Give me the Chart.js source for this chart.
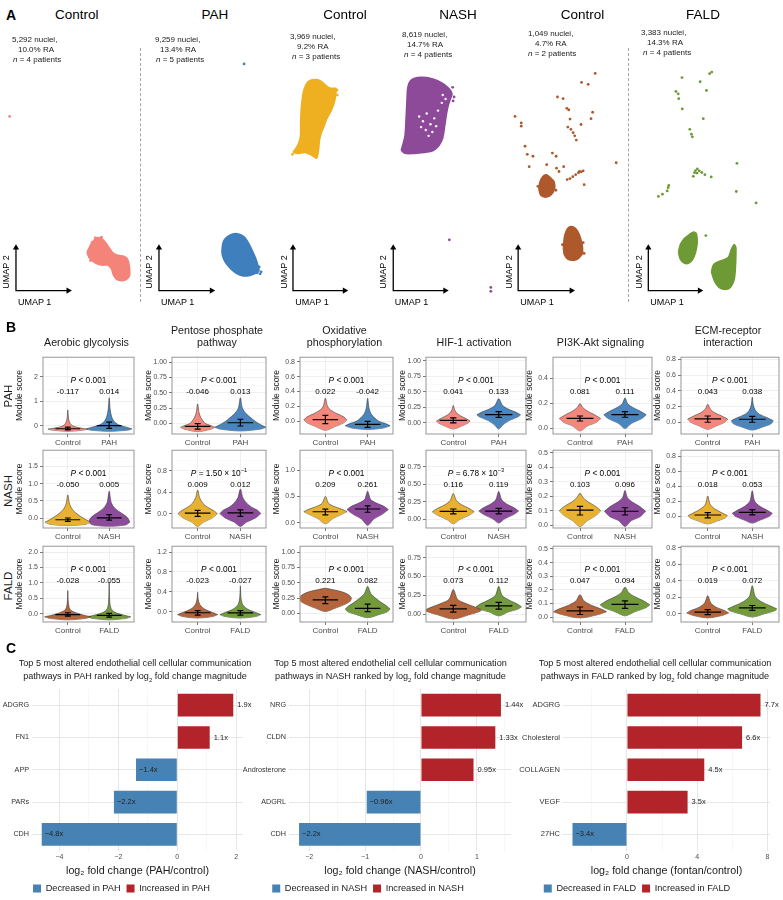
<!DOCTYPE html>
<html><head><meta charset="utf-8">
<script src="https://cdn.jsdelivr.net/npm/chart.js@4.4.1/dist/chart.umd.min.js"></script>
<style>
html,body{margin:0;padding:0;background:#fff;overflow:hidden;}
#root{position:relative;width:783px;height:900px;overflow:hidden;font-family:'Liberation Sans',Arial,Helvetica,sans-serif;color:#1a1a1a;background:#fff;}
.t{position:absolute;white-space:nowrap;line-height:1.15;}
.t sup{font-size:68%;vertical-align:super;line-height:0;}
canvas{position:absolute;}
.dash{position:absolute;width:0;border-left:1.2px dashed #a6a6a6;}
</style></head>
<body><div id="root"></div>
<script>
// ===================== PANEL A DATA (UMAP units) =====================
const umapTitles = ['Control','PAH','Control','NASH','Control','FALD'];
const umapNuclei = ['5,292','9,259','3,969','8,619','1,049','3,383'];
const umapRA = ['10.0%','13.4%','9.2%','14.7%','4.7%','14.3%'];
const umapPatients = [4,5,3,4,2,4];
const umapColors = ['#F4837A','#3F7FBE','#EEB021','#8D4A98','#AD592B','#6E9A36'];
const umapLefts = [0,143,272,385,500,633];
const umapTitleX = [76.7,215,345,458,582.5,703];
const umapArrows = [[1.27,6.82,5.48],[1.27,6.85,5.48],[1.8,7.28,5.48],[0.45,5.95,5.48],[1.5,7.15,5.48],[1.2,6.65,5.48]];
const annLeft = [[12,18,13],[155,160,156],[290,297,292],[402,407,404],[528,535,528],[641,647,643]];
const annTop = [40,40,37,35,34,33];

const umap1Blobs = [[
  [[8.8,4.9],[9.2,5.8],[9.8,6.5],[10.4,6.4],[11.0,5.7],[11.6,4.9],[12.1,4.7],[12.7,4.6],[13.1,4.3],[13.3,3.5],[13.35,2.7]],
  [[8.8,4.9],[9.2,4.3],[9.7,3.9],[10.3,3.7],[11.0,3.7],[11.4,3.3],[11.6,2.7],[12.0,2.2],[12.6,2.1],[13.1,2.3],[13.35,2.7]]
]];
const umap1Dots = [[8.93,5.17],[9.07,4.5],[9.33,6.0],[9.67,6.5],[10.33,6.57],[9.17,4.17],[0.6,19.0]];

const umap2Blobs = [[
  [[7.95,5.3],[8.1,6.1],[8.5,6.6],[9.1,6.9],[9.7,6.9],[10.3,6.6],[10.8,5.9],[11.2,5.1],[11.6,4.2],[11.8,3.5],[11.9,3.1]],
  [[7.95,5.3],[8.0,4.7],[8.3,4.0],[8.8,3.4],[9.4,2.9],[10.1,2.6],[10.8,2.6],[11.4,2.8],[11.9,3.1]]
]];
const umap2Dots = [[10.3,24.4],[11.9,3.5],[12.1,3.0],[11.7,2.9],[12.0,2.8]];

const umap3Blobs = [[
  [[1.8,15.3],[2.1,15.7],[2.4,16.2],[2.6,17.0],[2.62,18.5],[2.7,20.0],[2.9,21.5],[3.2,22.3],[3.6,22.7],[4.3,22.8],[4.8,22.6],[5.4,22.1],[5.8,21.9],[6.4,21.9]],
  [[1.8,15.3],[2.3,15.2],[3.1,15.3],[3.8,15.0],[4.3,14.7],[4.5,15.5],[4.6,16.5],[4.8,17.3],[5.1,18.0],[5.4,18.8],[5.8,19.5],[6.1,20.2],[6.3,21.0],[6.4,21.9]]
]];
const umap3Dots = [[1.75,15.1],[6.45,21.7],[5.9,20.3],[6.2,20.9],[6.5,21.2],[5.5,19.3]];

const umap4Blobs = [[
  [[1.3,15.5],[1.5,16.2],[1.7,17.0],[1.8,18.5],[1.9,20.5],[2.0,22.0],[2.3,22.7],[3.0,23.0],[4.0,23.0],[4.8,22.8],[5.5,22.5],[6.1,22.1],[6.5,21.7],[6.7,21.3]],
  [[1.3,15.5],[1.7,15.2],[2.7,15.2],[3.7,15.3],[4.7,15.5],[5.3,16.0],[5.7,16.8],[5.9,18.0],[6.1,19.3],[6.3,20.2],[6.5,20.8],[6.7,21.3]]
]];
const umap4Dots = [[6.4,6.3],[10.8,1.4],[10.8,1.0],[6.9,21.0],[6.8,20.6],[6.75,22.0]];
const umap4Holes = [[3.2,19.0],[3.6,18.5],[4.0,19.3],[4.4,18.2],[4.8,18.8],[3.9,17.6],[4.6,17.4],[5.2,19.6],[5.6,20.4],[5.7,21.2],[6.0,20.8],[3.4,17.9],[4.2,17.0],[5.0,18.0]];

const umap5Blobs = [
  [[[3.7,11.5],[3.8,12.2],[4.1,12.8],[4.5,13.0],[4.9,12.7],[5.3,12.3],[5.4,11.7]],
   [[3.7,11.5],[3.9,10.9],[4.3,10.7],[4.8,10.8],[5.2,11.2],[5.4,11.7]]],
  [[[6.3,5.5],[6.4,6.5],[6.6,7.2],[6.9,7.6],[7.4,7.6],[7.8,7.2],[8.1,6.5],[8.3,5.7],[8.35,4.9]],
   [[6.3,5.5],[6.4,4.8],[6.8,4.3],[7.4,4.2],[7.9,4.4],[8.35,4.9]]]
];
const umap5Dots = [[9.67,23.43],[8.23,22.5],[8.93,22.3],[5.67,21.0],[6.27,20.83],[6.67,19.83],[6.87,19.67],[9.4,19.43],[9.23,18.77],[7.0,18.73],[1.83,18.33],[1.83,18.0],[8.17,18.17],[6.77,17.9],[7.1,17.67],[7.33,17.33],[7.5,17.0],[7.67,16.57],[2.23,15.93],[2.47,15.1],[3.07,14.9],[5.13,15.23],[5.53,14.9],[4.53,14.03],[2.67,13.83],[5.57,13.67],[6.33,13.83],[5.83,13.33],[8.5,11.97],[11.9,14.23],[1.17,19.0],[8.0,13.33],[6.7,12.5],[7.0,12.6],[7.3,12.8],[7.6,13.0],[7.9,13.2],[8.2,13.3],[8.4,13.4],[8.4,6.0],[8.5,4.9],[6.2,5.8],[3.6,11.8],[5.5,11.4]];

const umap6Blobs = [
  [[[4.4,5.0],[4.6,5.8],[5.0,6.4],[5.5,6.8],[6.0,7.1],[6.3,6.9],[6.4,6.0]],
   [[4.4,5.0],[4.6,4.3],[5.0,3.9],[5.5,3.9],[5.9,4.3],[6.2,5.0],[6.4,6.0]]],
  [[[7.9,3.0],[8.1,3.7],[8.5,4.0],[9.1,4.2],[9.7,4.5],[10.0,5.3],[10.3,5.8],[10.5,5.5]],
   [[7.9,3.0],[8.2,2.1],[8.7,1.4],[9.3,1.2],[9.9,1.4],[10.3,2.2],[10.45,3.7],[10.5,5.5]]]
];
const umap6Dots = [[7.93,23.57],[7.7,23.4],[4.77,23.0],[6.7,22.57],[4.13,21.57],[4.37,21.33],[4.43,20.83],[7.37,21.67],[4.8,19.77],[7.03,18.77],[5.6,17.67],[5.77,17.17],[5.87,16.9],[10.6,14.17],[6.2,13.43],[6.37,13.17],[6.87,13.23],[7.2,13.0],[7.87,12.77],[5.97,12.83],[3.3,11.67],[3.2,11.33],[2.7,11.0],[2.27,10.77],[10.53,11.27],[12.63,10.1],[7.3,6.73],[6.4,13.6],[6.6,13.4],[3.37,11.9],[6.1,13.2]];

// ===================== PANEL B DATA =====================
const metricTitles = ['Aerobic glycolysis','Pentose phosphate<br>pathway','Oxidative<br>phosphorylation','HIF-1 activation','PI3K-Akt signaling','ECM-receptor<br>interaction'];
const groupNames = ['PAH','NASH','FALD'];
const rowColors = [['#F4877C','#4A85BD'],['#E9B130','#8C4C9B'],['#B4653B','#739A3B']];
// [min, max, major step, decimals]
const pahYAxis = [[-0.33,2.8,1,0],[-0.17,1.08,0.25,2],[-0.17,0.86,0.2,1],[-0.18,1.06,0.25,2],[-0.044,0.57,0.2,1],[-0.15,0.83,0.2,1]];
const nashYAxis = [[-0.29,1.97,0.5,1],[-0.27,1.19,0.4,1],[-0.1,1.38,0.5,1],[-0.12,0.985,0.25,2],[-0.02,0.518,0.1,1],[-0.155,0.88,0.2,1]];
const faldYAxis = [[-0.27,2.19,0.5,1],[-0.21,1.32,0.4,1],[-0.14,1.095,0.25,2],[-0.1,0.9,0.25,2],[-0.035,0.52,0.1,1],[-0.1,0.82,0.2,1]];
const pahMedians = [[-0.117,0.014],[-0.046,0.013],[0.022,-0.042],[0.041,0.133],[0.081,0.111],[0.043,0.038]];
const nashMedians = [[-0.050,0.005],[0.009,0.012],[0.209,0.261],[0.116,0.119],[0.103,0.096],[0.018,0.053]];
const faldMedians = [[-0.028,-0.055],[-0.023,-0.027],[0.221,0.082],[0.073,0.112],[0.047,0.094],[0.019,0.072]];
const pahIQR = [[[-0.16,-0.05],[-0.1,0.15]],[[-0.09,0.0],[-0.04,0.07]],[[-0.03,0.08],[-0.08,0.0]],[[0.0,0.08],[0.09,0.18]],[[0.06,0.1],[0.09,0.135]],[[0.0,0.08],[0.0,0.075]]];
const nashIQR = [[[-0.1,0.0],[-0.06,0.1]],[[-0.05,0.06],[-0.05,0.07]],[[0.15,0.26],[0.2,0.32]],[[0.08,0.15],[0.08,0.16]],[[0.07,0.13],[0.07,0.12]],[[-0.02,0.05],[0.02,0.09]]];
const faldIQR = [[[-0.08,0.03],[-0.11,0.01]],[[-0.07,0.02],[-0.07,0.02]],[[0.16,0.27],[0.03,0.15]],[[0.03,0.12],[0.07,0.16]],[[0.02,0.075],[0.065,0.12]],[[-0.01,0.05],[0.04,0.1]]];
const pahP = ['< 0.001','< 0.001','< 0.001','< 0.001','< 0.001','< 0.001'];
const nashP = ['< 0.001','= 1.50 × 10<sup>−1</sup>','< 0.001','= 6.78 × 10<sup>−3</sup>','< 0.001','< 0.001'];
const faldP = ['< 0.001','< 0.001','< 0.001','< 0.001','< 0.001','< 0.001'];
// violin outlines: [score, relative half-width] from bottom tip to top tip
const pahCtrlShapes = [
 [[-0.22,0],[-0.17,0.8],[-0.13,1],[-0.08,0.6],[0.0,0.25],[0.1,0.12],[0.25,0.05],[0.45,0.02],[0.65,0]],
 [[-0.13,0],[-0.09,0.8],[-0.06,1],[-0.03,0.75],[0.0,0.45],[0.05,0.3],[0.1,0.18],[0.18,0.08],[0.32,0]],
 [[-0.12,0],[-0.07,0.45],[-0.02,0.85],[0.02,1],[0.06,0.85],[0.1,0.55],[0.15,0.25],[0.2,0.1],[0.31,0]],
 [[-0.1,0],[-0.05,0.5],[0.0,0.9],[0.03,1],[0.07,0.75],[0.11,0.45],[0.16,0.2],[0.21,0.08],[0.28,0]],
 [[-0.02,0],[0.02,0.35],[0.05,0.8],[0.08,1],[0.11,0.7],[0.14,0.35],[0.17,0.12],[0.2,0]],
 [[-0.09,0],[-0.05,0.4],[0.0,0.85],[0.04,1],[0.08,0.7],[0.12,0.35],[0.17,0.12],[0.23,0]]];
const pahDisShapes = [
 [[-0.22,0],[-0.17,0.85],[-0.12,1],[-0.05,0.75],[0.05,0.4],[0.2,0.2],[0.4,0.1],[0.7,0.04],[1.15,0]],
 [[-0.12,0],[-0.09,0.8],[-0.06,1],[-0.02,0.8],[0.03,0.6],[0.08,0.45],[0.15,0.25],[0.25,0.08],[0.42,0]],
 [[-0.11,0],[-0.09,0.7],[-0.06,1],[-0.03,0.8],[0.0,0.5],[0.05,0.3],[0.1,0.15],[0.18,0.06],[0.31,0]],
 [[-0.1,0],[-0.03,0.2],[0.04,0.5],[0.1,0.9],[0.13,1],[0.17,0.8],[0.22,0.45],[0.28,0.18],[0.39,0]],
 [[0.0,0],[0.04,0.3],[0.08,0.8],[0.11,1],[0.14,0.7],[0.17,0.35],[0.2,0.12],[0.245,0]],
 [[-0.1,0],[-0.06,0.5],[-0.02,0.9],[0.02,1],[0.06,0.7],[0.1,0.35],[0.15,0.15],[0.22,0.05],[0.32,0]]];
const nashCtrlShapes = [
 [[-0.22,0],[-0.18,0.8],[-0.12,1],[-0.05,0.8],[0.05,0.55],[0.15,0.35],[0.25,0.2],[0.4,0.08],[0.67,0]],
 [[-0.24,0],[-0.16,0.3],[-0.08,0.75],[0.0,1],[0.06,0.8],[0.12,0.5],[0.2,0.25],[0.3,0.1],[0.44,0]],
 [[-0.02,0],[0.08,0.35],[0.15,0.7],[0.21,1],[0.26,0.75],[0.31,0.4],[0.37,0.15],[0.5,0]],
 [[-0.06,0],[0.0,0.3],[0.06,0.75],[0.11,1],[0.16,0.75],[0.21,0.4],[0.27,0.15],[0.37,0]],
 [[-0.01,0],[0.03,0.35],[0.07,0.8],[0.1,1],[0.13,0.75],[0.16,0.4],[0.19,0.15],[0.22,0]],
 [[-0.1,0],[-0.06,0.5],[-0.02,0.9],[0.01,1],[0.05,0.7],[0.1,0.35],[0.16,0.12],[0.27,0]]];
const nashDisShapes = [
 [[-0.24,0],[-0.2,0.8],[-0.12,1],[0.0,0.9],[0.1,0.7],[0.2,0.45],[0.3,0.25],[0.45,0.1],[0.78,0]],
 [[-0.24,0],[-0.16,0.3],[-0.08,0.75],[0.0,1],[0.06,0.85],[0.12,0.55],[0.2,0.3],[0.3,0.12],[0.46,0]],
 [[-0.05,0],[0.07,0.3],[0.16,0.7],[0.25,1],[0.31,0.8],[0.37,0.45],[0.44,0.15],[0.6,0]],
 [[-0.05,0],[0.01,0.3],[0.07,0.75],[0.12,1],[0.17,0.75],[0.22,0.4],[0.28,0.15],[0.4,0]],
 [[-0.01,0],[0.03,0.3],[0.06,0.75],[0.095,1],[0.13,0.7],[0.16,0.35],[0.19,0.12],[0.24,0]],
 [[-0.09,0],[-0.05,0.4],[0.0,0.85],[0.04,1],[0.08,0.75],[0.13,0.4],[0.2,0.12],[0.34,0]]];
const faldCtrlShapes = [
 [[-0.2,0],[-0.15,0.8],[-0.1,1],[-0.05,0.7],[0.03,0.35],[0.1,0.15],[0.2,0.06],[0.4,0.02],[0.75,0]],
 [[-0.13,0],[-0.1,0.75],[-0.06,1],[-0.02,0.75],[0.03,0.45],[0.08,0.25],[0.15,0.1],[0.25,0.03],[0.39,0]],
 [[0.03,0],[0.08,0.35],[0.14,0.7],[0.2,0.95],[0.25,1],[0.3,0.9],[0.35,0.65],[0.39,0.25],[0.41,0]],
 [[-0.06,0],[0.0,0.6],[0.04,0.95],[0.06,1],[0.1,0.75],[0.15,0.4],[0.2,0.15],[0.33,0]],
 [[-0.005,0],[0.02,0.7],[0.04,1],[0.06,0.8],[0.09,0.4],[0.12,0.15],[0.165,0]],
 [[-0.05,0],[-0.02,0.7],[0.01,1],[0.04,0.8],[0.08,0.4],[0.13,0.15],[0.22,0]]];
const faldDisShapes = [
 [[-0.2,0],[-0.15,0.8],[-0.1,1],[-0.05,0.7],[0.02,0.35],[0.1,0.15],[0.25,0.05],[0.5,0.02],[1.02,0]],
 [[-0.13,0],[-0.1,0.75],[-0.06,1],[-0.02,0.75],[0.03,0.45],[0.08,0.25],[0.15,0.1],[0.28,0.03],[0.52,0]],
 [[-0.07,0],[-0.02,0.5],[0.03,0.9],[0.07,1],[0.12,0.85],[0.18,0.6],[0.25,0.35],[0.32,0.15],[0.44,0]],
 [[-0.02,0],[0.03,0.4],[0.07,0.85],[0.1,1],[0.14,0.8],[0.19,0.45],[0.25,0.15],[0.37,0]],
 [[0.01,0],[0.04,0.4],[0.07,0.85],[0.09,1],[0.12,0.75],[0.15,0.4],[0.18,0.15],[0.22,0]],
 [[-0.04,0],[0.0,0.5],[0.04,0.95],[0.06,1],[0.1,0.7],[0.15,0.35],[0.21,0.12],[0.34,0]]];
const pahCtrlWidth = [0.48,0.4,0.51,0.37,0.46,0.45];
const pahDisWidth = [0.55,0.6,0.53,0.48,0.47,0.47];
const nashCtrlWidth = [0.55,0.46,0.51,0.46,0.46,0.44];
const nashDisWidth = [0.5,0.48,0.49,0.44,0.46,0.45];
const faldCtrlWidth = [0.56,0.47,0.62,0.62,0.59,0.47];
const faldDisWidth = [0.52,0.48,0.53,0.5,0.55,0.55];
const colL = [43,172,300,426,553,681], colR = [134,266,393,526,652,779];
const rowT = [355,448,544], rowB = [434,528,622];

// ===================== PANEL C DATA =====================
const pahPathways = ['ADGRG','FN1','APP','PARs','CDH'];
const pahLog2FC = [1.9,1.1,-1.4,-2.15,-4.6];
const pahFCLabels = ['1.9x','1.1x','−1.4x','−2.2x','−4.8x'];
const nashPathways = ['NRG','CLDN','Androsterone','ADGRL','CDH'];
const nashLog2FC = [1.43,1.33,0.94,-0.97,-2.18];
const nashFCLabels = ['1.44x','1.33x','0.95x','−0.96x','−2.2x'];
const faldPathways = ['ADGRG','Cholesterol','COLLAGEN','VEGF','27HC'];
const faldLog2FC = [7.6,6.55,4.4,3.45,-3.1];
const faldFCLabels = ['7.7x','6.6x','4.5x','3.5x','−3.4x'];

// ===================== HELPERS =====================
const FONT = "'Liberation Sans', Arial, Helvetica, sans-serif";
const NARROW = "'Liberation Sans Narrow', 'Arial Narrow', 'Liberation Sans', sans-serif";
Chart.defaults.font.family = FONT;
Chart.defaults.color = '#4d4d4d';
const root = document.getElementById('root');
function makeCanvas(x, y, w, h) {
  const c = document.createElement('canvas');
  c.width = w; c.height = h;
  c.style.left = x + 'px'; c.style.top = y + 'px';
  c.style.width = w + 'px'; c.style.height = h + 'px';
  root.appendChild(c); return c;
}
function text(html, x, y, o) {
  o = o || {};
  const d = document.createElement('div');
  d.className = 't'; d.innerHTML = html;
  d.style.left = x + 'px'; d.style.top = y + 'px';
  d.style.fontSize = (o.size || 9) + 'px';
  if (o.bold) d.style.fontWeight = 'bold';
  d.style.color = o.color || '#1a1a1a';
  if (o.family) d.style.fontFamily = o.family;
  let tr = o.anchor === 'left' ? 'translate(0,-50%)' : 'translate(-50%,-50%)';
  if (o.rot) tr += ' rotate(' + o.rot + 'deg)';
  d.style.transform = tr;
  if (o.center) d.style.textAlign = 'center';
  root.appendChild(d); return d;
}
function dashLine(x, y1, y2) {
  const d = document.createElement('div'); d.className = 'dash';
  d.style.left = x + 'px'; d.style.top = y1 + 'px'; d.style.height = (y2 - y1) + 'px';
  root.appendChild(d);
}
function buildTicks(min, max, step) {
  const t = []; let k = Math.ceil(min / step - 1e-9);
  for (; k * step <= max + 1e-9; k++) t.push({value: +(k * step).toFixed(6)});
  return t;
}
const isMult = (v, s) => Math.abs(v / s - Math.round(v / s)) < 1e-6;
const toXY = p => ({x: p[0], y: p[1]});
const panelBox = {
  id: 'panelBox',
  afterDraw(chart, args, opts) {
    const a = chart.chartArea, ctx = chart.ctx;
    ctx.save(); ctx.strokeStyle = opts.color || '#888'; ctx.lineWidth = opts.width || 1;
    ctx.strokeRect(a.left, a.top, a.right - a.left, a.bottom - a.top);
    ctx.restore();
  }
};
const fcLabels = {
  id: 'fcLabels',
  afterDatasetsDraw(chart, args, opts) {
    const ctx = chart.ctx;
    ctx.save();
    ctx.font = opts.labelSize + 'px ' + opts.labelFamily;
    ctx.fillStyle = '#222'; ctx.textBaseline = 'middle'; ctx.textAlign = 'left';
    chart.data.datasets.forEach((ds, di) => {
      const meta = chart.getDatasetMeta(di);
      meta.data.forEach((el, i) => {
        const v = ds.data[i];
        if (v === null || v === undefined) return;
        const x = v > 0 ? el.x + 4 : el.x + 3;
        ctx.fillText(opts.labels[i], x, el.y);
      });
    });
    ctx.restore();
  }
};

// ===================== PANEL A =====================
text('A', 11, 15, {size: 14, bold: true, color: '#000'});
dashLine(140, 48, 302);
dashLine(628, 48, 302);
const umapBlobSets = [umap1Blobs, umap2Blobs, umap3Blobs, umap4Blobs, umap5Blobs, umap6Blobs];
const umapDotSets = [umap1Dots, umap2Dots, umap3Dots, umap4Dots, umap5Dots, umap6Dots];
umapTitles.forEach((title, k) => {
  const left = umapLefts[k], col = umapColors[k];
  const cv = makeCanvas(left, 25, 140, 280);
  const ds = [];
  umapBlobSets[k].forEach(b => {
    ds.push({data: b[0].map(toXY), fill: '+1', backgroundColor: col, borderColor: col, borderWidth: 1.6, pointRadius: 0, tension: 0.3, order: 3});
    ds.push({data: b[1].map(toXY), fill: false, borderColor: col, borderWidth: 1.6, pointRadius: 0, tension: 0.3, order: 3});
  });
  ds.push({data: umapDotSets[k].map(toXY), showLine: false, pointRadius: 1.4, pointBackgroundColor: col, pointBorderWidth: 0, order: 2});
  if (k === 3) ds.push({data: umap4Holes.map(toXY), showLine: false, pointRadius: 1.2, pointBackgroundColor: '#ffffff', pointBorderWidth: 0, order: 1});
  const a = umapArrows[k];
  ds.push({data: [{x: a[0], y: a[2]}, {x: a[0], y: 1.07}, {x: a[1], y: 1.07}], borderColor: '#000', borderWidth: 1.3,
    pointStyle: 'triangle', pointRadius: [3.6, 0, 3.6], pointRotation: [0, 0, 90], pointBackgroundColor: '#000', pointBorderColor: '#000', pointBorderWidth: 0, tension: 0, order: 0});
  new Chart(cv, {
    type: 'line', data: {datasets: ds},
    options: {responsive: false, animation: false, events: [], layout: {padding: 0},
      plugins: {legend: {display: false}, tooltip: {enabled: false}},
      scales: {x: {type: 'linear', display: false, min: 0, max: 14}, y: {type: 'linear', display: false, min: 0, max: 28}}}
  });
  text(title, umapTitleX[k], 15, {size: 13.5, color: '#000'});
  const ax = left + a[0] * 10;
  text('UMAP 2', ax - 6.5, 272, {size: 9, rot: -90, color: '#000'});
  text('UMAP 1', ax + 22, 302, {size: 9, color: '#000'});
  const y0 = annTop[k];
  text(umapNuclei[k] + ' nuclei,', annLeft[k][0], y0, {size: 8, anchor: 'left'});
  text(umapRA[k] + ' RA', annLeft[k][1], y0 + 10, {size: 8, anchor: 'left'});
  text('<i>n</i> = ' + umapPatients[k] + ' patients', annLeft[k][2], y0 + 20, {size: 8, anchor: 'left'});
});

// ===================== PANEL B =====================
text('B', 11, 327, {size: 14, bold: true, color: '#000'});
metricTitles.forEach((t, c) => {
  const cx = (colL[c] + colR[c]) / 2 - 2;
  if (t.indexOf('<br>') >= 0) text(t, cx, 335.5, {size: 10.7, center: true});
  else text(t, cx, 342, {size: 10.7});
});
const rowLabelY = [396, 491, 586];
groupNames.forEach((g, r) => text(g, 9, rowLabelY[r], {size: 11.5, rot: -90}));
const violinRows = [
  {name: 'PAH', axis: pahYAxis, med: pahMedians, iqr: pahIQR, p: pahP, cs: pahCtrlShapes, ds: pahDisShapes, cw: pahCtrlWidth, dw: pahDisWidth},
  {name: 'NASH', axis: nashYAxis, med: nashMedians, iqr: nashIQR, p: nashP, cs: nashCtrlShapes, ds: nashDisShapes, cw: nashCtrlWidth, dw: nashDisWidth},
  {name: 'FALD', axis: faldYAxis, med: faldMedians, iqr: faldIQR, p: faldP, cs: faldCtrlShapes, ds: faldDisShapes, cw: faldCtrlWidth, dw: faldDisWidth}
];
function violinDatasets(profile, c, W, color) {
  let m = 0;
  profile.forEach((p, i) => { if (p[1] > profile[m][1]) m = i; });
  const n = profile.length - 1, top = [], bot = [];
  for (let i = m; i <= n; i++) top.push({x: c - W * profile[i][1], y: profile[i][0]});
  for (let i = n - 1; i >= m; i--) top.push({x: c + W * profile[i][1], y: profile[i][0]});
  for (let i = m; i >= 0; i--) bot.push({x: c - W * profile[i][1], y: profile[i][0]});
  for (let i = 1; i <= m; i++) bot.push({x: c + W * profile[i][1], y: profile[i][0]});
  return [
    {data: top, fill: '+1', backgroundColor: color, borderColor: '#3a3a3a', borderWidth: 0.6, pointRadius: 0, tension: 0.3, order: 2},
    {data: bot, fill: false, borderColor: '#3a3a3a', borderWidth: 0.6, pointRadius: 0, tension: 0.3, order: 2}
  ];
}
violinRows.forEach((row, r) => {
  row.axis.forEach((ax, c) => {
    const L = colL[c], R = colR[c], T = rowT[r], B = rowB[r];
    const ymin = ax[0], ymax = ax[1], step = ax[2], dec = ax[3];
    const cvLeft = L - 32;
    const cv = makeCanvas(cvLeft, T - 4, R - L + 36, B - T + 20);
    const err = [];
    [0, 1].forEach(g => {
      const cx = g + 1, q = row.iqr[c][g], md = row.med[c][g];
      err.push({x: cx, y: q[0]}, {x: cx, y: q[1]}, {x: cx, y: null},
        {x: cx - 0.07, y: q[0]}, {x: cx + 0.07, y: q[0]}, {x: cx, y: null},
        {x: cx - 0.07, y: q[1]}, {x: cx + 0.07, y: q[1]}, {x: cx, y: null},
        {x: cx - 0.3, y: md}, {x: cx + 0.3, y: md}, {x: cx, y: null});
    });
    const datasets = [{data: err, borderColor: '#000', borderWidth: 1.2, pointRadius: 0, fill: false, spanGaps: false, order: 0}];
    datasets.push(...violinDatasets(row.cs[c], 1, row.cw[c], rowColors[r][0]));
    datasets.push(...violinDatasets(row.ds[c], 2, row.dw[c], rowColors[r][1]));
    const major = ctx => ctx.tick && isMult(ctx.tick.value, step);
    const ch = new Chart(cv, {
      type: 'line', data: {datasets},
      options: {
        responsive: false, animation: false, events: [],
        layout: {padding: {top: 4, right: 4, left: 0, bottom: 0}},
        plugins: {legend: {display: false}, tooltip: {enabled: false}, panelBox: {color: '#8c8c8c', width: 0.9}},
        scales: {
          x: {type: 'linear', min: 0.4, max: 2.6,
            afterBuildTicks: s => { s.ticks = [{value: 1}, {value: 2}]; },
            afterFit: s => { s.height = 16; },
            ticks: {autoSkip: false, maxRotation: 0, padding: 1, font: {size: 8}, color: '#4d4d4d', callback: v => v === 1 ? 'Control' : row.name},
            grid: {color: '#EBEBEB', lineWidth: 0.8, tickColor: '#555', tickLength: 3},
            border: {display: false}},
          y: {type: 'linear', min: ymin, max: ymax,
            afterBuildTicks: s => { s.ticks = buildTicks(ymin, ymax, step / 2); },
            afterFit: s => { s.width = 32; },
            ticks: {autoSkip: false, padding: 2, font: {size: 7}, color: '#4d4d4d', callback: v => isMult(v, step) ? v.toFixed(dec) : ''},
            grid: {color: ctx => major(ctx) ? '#EBEBEB' : '#F5F5F5', lineWidth: ctx => major(ctx) ? 0.8 : 0.5,
              tickColor: ctx => major(ctx) ? '#555' : 'rgba(0,0,0,0)', tickLength: 3},
            border: {display: false},
            title: {display: true, text: 'Module score', font: {size: 8.5}, color: '#1a1a1a', padding: {top: 4, bottom: 0}}}
        }
      },
      plugins: [panelBox]
    });
    const a = ch.chartArea;
    text('<i>P</i> ' + row.p[c], cvLeft + (a.left + a.right) / 2, T + 26, {size: 8.3, color: '#000'});
    [0, 1].forEach(g => {
      const px = cvLeft + ch.scales.x.getPixelForValue(g + 1);
      text(row.med[c][g].toFixed(3), px, T + 36.5, {size: 8, color: '#000'});
    });
  });
});

// ===================== PANEL C =====================
text('C', 11, 648, {size: 14, bold: true, color: '#000'});
const fcTitleX = [135, 390.5, 655];
groupNames.forEach((g, i) => {
  text('Top 5 most altered endothelial cell cellular communication', fcTitleX[i], 663, {size: 9.1});
  text('pathways in ' + g + ' ranked by log<sub style="font-size:65%;line-height:0">2</sub> fold change magnitude', fcTitleX[i], 675.5, {size: 9.1});
});
function fcChart(left, width, axisW, padRight, cats, vals, labs, dis, xr, xTitle, catFamily, catSize) {
  const cv = makeCanvas(left, 681, width, 222);
  const maj = ctx => ctx.tick && isMult(ctx.tick.value, xr[2]);
  return new Chart(cv, {
    type: 'bar',
    data: {labels: cats, datasets: [
      {label: 'Decreased in ' + dis, data: vals.map(v => v < 0 ? v : null), backgroundColor: '#4682B4', borderWidth: 0},
      {label: 'Increased in ' + dis, data: vals.map(v => v > 0 ? v : null), backgroundColor: '#B22429', borderWidth: 0}
    ]},
    options: {
      indexAxis: 'y', responsive: false, animation: false, events: [],
      layout: {padding: {top: 8, right: padRight, left: 0, bottom: 0}},
      datasets: {bar: {barPercentage: 0.7, categoryPercentage: 1, grouped: false, skipNull: true}},
      plugins: {
        tooltip: {enabled: false},
        legend: {position: 'bottom', labels: {boxWidth: 8, boxHeight: 8, padding: 6, font: {size: 9.2}, color: '#1a1a1a'}},
        fcLabels: {labels: labs, labelSize: 7.5, labelFamily: catFamily}
      },
      scales: {
        x: {type: 'linear', min: xr[0], max: xr[1],
          afterBuildTicks: s => { s.ticks = buildTicks(xr[0], xr[1], xr[3]); },
          ticks: {autoSkip: false, maxRotation: 0, padding: 2, font: {size: 7}, color: '#4d4d4d',
            callback: v => isMult(v, xr[2]) ? String(v).replace('-', '−') : ''},
          grid: {drawTicks: false, color: ctx => maj(ctx) ? '#E6E6E6' : '#F2F2F2', lineWidth: ctx => maj(ctx) ? 1 : 0.6},
          border: {display: false},
          title: {display: true, text: xTitle, font: {size: 10.7}, color: '#1a1a1a', padding: {top: 2, bottom: 0}}},
        y: {grid: {drawTicks: false, color: '#E6E6E6', lineWidth: 1, offset: false}, border: {display: false},
          ticks: {padding: 3, font: {size: catSize, family: catFamily}, color: '#333'},
          afterFit: s => { s.width = axisW; }}
      }
    },
    plugins: [fcLabels]
  });
}
fcChart(0, 275, 32, 32, pahPathways, pahLog2FC, pahFCLabels, 'PAH', [-4.93, 2.23, 2, 1], 'log₂ fold change (PAH/control)', FONT, 7.2);
fcChart(225, 350, 64, 64, nashPathways, nashLog2FC, nashFCLabels, 'NASH', [-2.36, 1.61, 1, 0.5], 'log₂ fold change (NASH/control)', FONT, 7.2);
fcChart(504, 325, 59, 59, faldPathways, faldLog2FC, faldFCLabels, 'FALD', [-3.64, 8.14, 4, 2], 'log₂ fold change (fontan/control)', NARROW, 7.5);
</script>
</body></html>
